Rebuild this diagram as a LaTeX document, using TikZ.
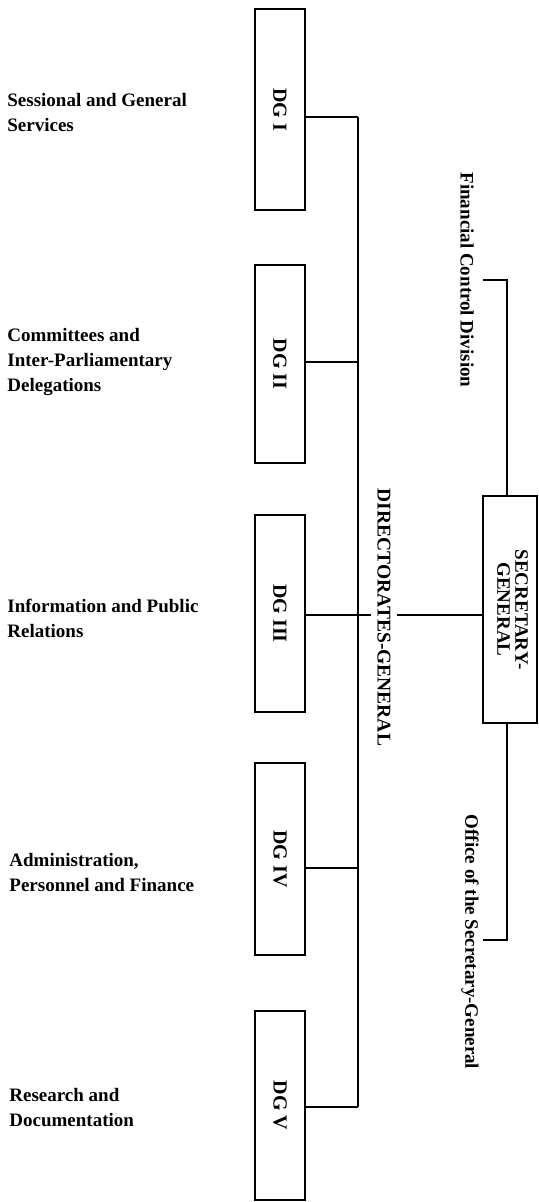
\documentclass[tikz,border=0pt]{standalone}
\usepackage{fontspec}
\setmainfont{Liberation Serif}
\usepackage{graphicx}
\begin{document}
\begin{tikzpicture}[x=0.5pt,y=-0.5pt,
  dgbox/.style={draw, line width=1pt, minimum width=25pt, inner sep=0pt,
    font=\fontsize{10}{12}\selectfont\bfseries},
  sgbox/.style={draw, line width=1pt, minimum width=27pt, minimum height=113.5pt,
    inner sep=0pt, font=\fontsize{9.5}{9}\selectfont\bfseries},
  lbl/.style={anchor=west, align=left, inner sep=0pt,
    font=\fontsize{9.5}{12.5}\selectfont\bfseries},
  vtext/.style={rotate=-90, inner sep=0pt, font=\fontsize{9.5}{11}\selectfont\bfseries},
  conn/.style={line width=1pt}]
\useasboundingbox (0,0) rectangle (539,1202);

% DG boxes
\node[dgbox, minimum height=100.5pt] (dg1) at (280,109.5) {\rotatebox{-90}{DG I}};
\node[dgbox, minimum height=99pt]    (dg2) at (280,364)   {\rotatebox{-90}{DG II}};
\node[dgbox, minimum height=98.5pt]  (dg3) at (280,613.5) {\rotatebox{-90}{DG III}};
\node[dgbox, minimum height=96pt]    (dg4) at (280,859)   {\rotatebox{-90}{DG IV}};
\node[dgbox, minimum height=94.5pt]  (dg5) at (280,1105.5){\rotatebox{-90}{DG V}};

% left labels
\node[lbl] (l1) at (7,113)  {Sessional and General\\Services};
\node[lbl] (l2) at (7,362)  {Committees and\\Inter-Parliamentary\\Delegations};
\node[lbl] (l3) at (7,618)  {Information and Public\\Relations};
\node[lbl] (l4) at (9,872)  {Administration,\\Personnel and Finance};
\node[lbl] (l5) at (9,1108) {Research and\\Documentation};

% Secretary-General
\node[sgbox] (sg) at (510,609.5)
  {\setlength\tabcolsep{0pt}\rotatebox{-90}{\begin{tabular}{@{}c@{}}SECRETARY-\\GENERAL\end{tabular}}};

% junctions on the trunk
\coordinate (j1) at (358,117);
\coordinate (j2) at (358,362);
\coordinate (j3) at (358,615);
\coordinate (j4) at (358,868);
\coordinate (j5) at (358,1107);

\draw[conn] (j1 -| dg1.east) -- (j1);
\draw[conn] (j2 -| dg2.east) -- (j2);
\draw[conn] (j4 -| dg4.east) -- (j4);
\draw[conn] (j5 -| dg5.east) -- (j5);
\draw[conn] (j1) -- (j5);
\draw[conn] (j3 -| dg3.east) -- (j3 -| sg.west);

\node[vtext, fill=white, inner ysep=3pt, font=\fontsize{9.75}{11}\selectfont\bfseries]
  (dirg) at (384,617.5) {DIRECTORATES-GENERAL};

% brackets to the side offices
\coordinate (fcend) at (483,280);
\coordinate (osend) at (483,940);
\draw[conn] ([xshift=-1.5pt]sg.north) |- (fcend);
\draw[conn] ([xshift=-1.5pt]sg.south) |- (osend);
\node[vtext] (fc) at (467,280) {Financial Control Division};
\node[vtext] (os) at (470,942) {Office of the Secretary-General};
\end{tikzpicture}
\end{document}
